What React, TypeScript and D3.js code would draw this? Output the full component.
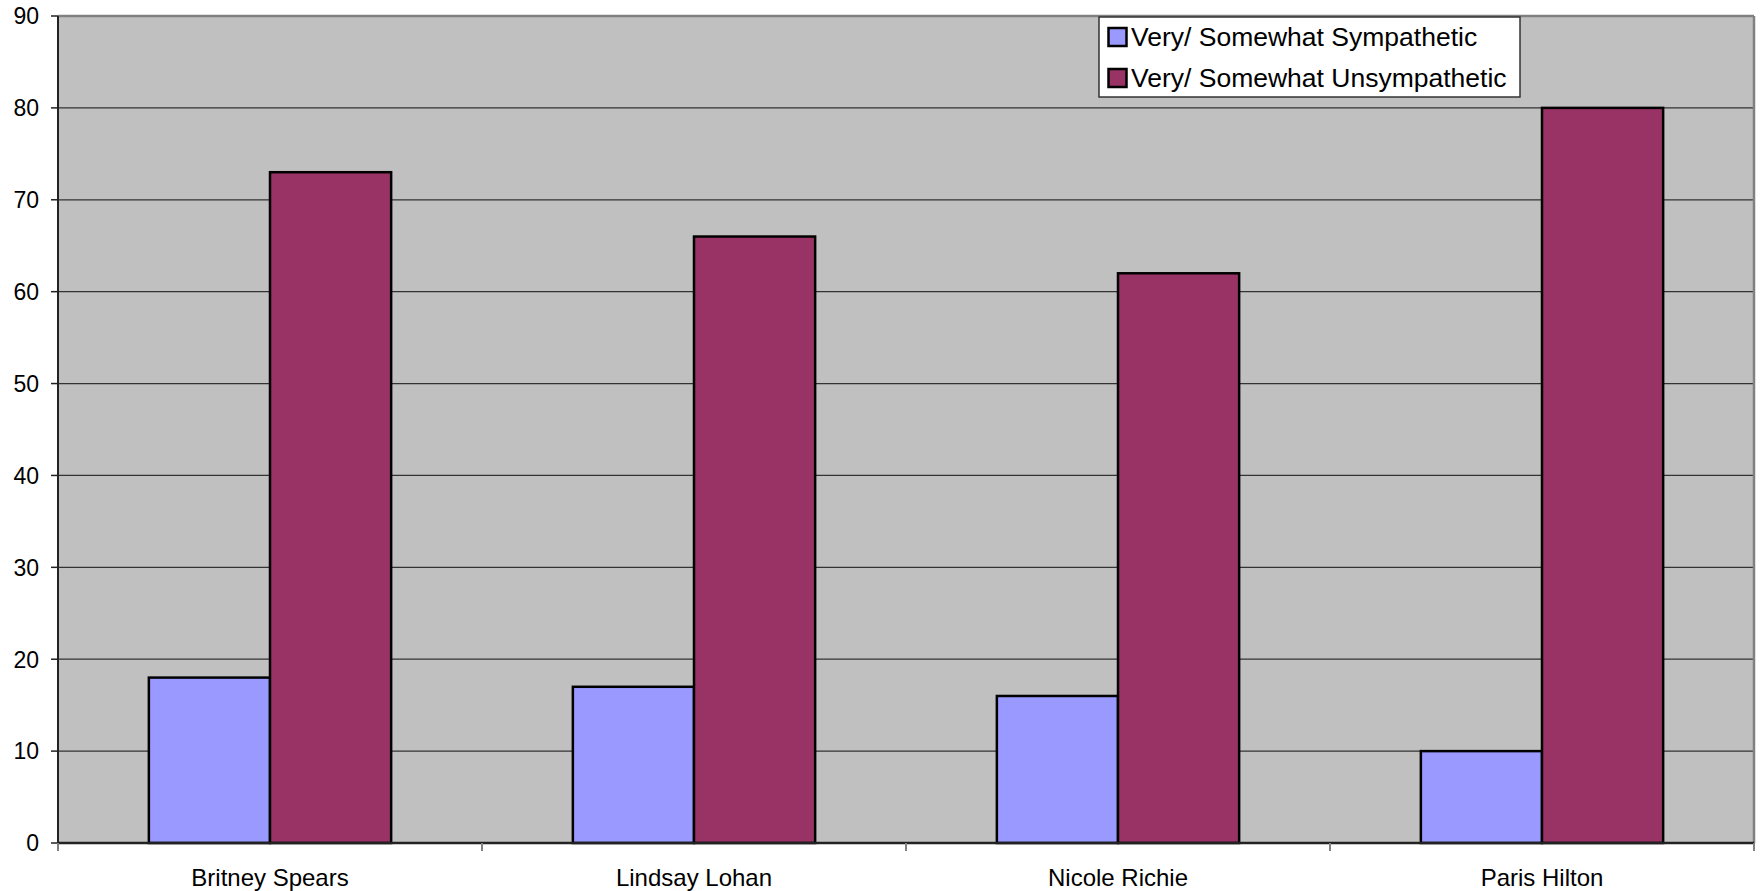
import React from "react";
import * as d3 from "d3";

const categories = ["Britney Spears", "Lindsay Lohan", "Nicole Richie", "Paris Hilton"];
const seriesNames = ["Very/ Somewhat Sympathetic", "Very/ Somewhat Unsympathetic"];
const sympathetic = [18, 17, 16, 10];
const unsympathetic = [73, 66, 62, 80];
const yTicks = [0, 10, 20, 30, 40, 50, 60, 70, 80, 90];
const colors = ["#9999FF", "#993366"];

const W = 1762;
const H = 891;
const plot = { left: 58, right: 1754, top: 16, bottom: 843 };
const FONT = "'Liberation Sans', Arial, sans-serif";

export default function App() {
  const values = [sympathetic, unsympathetic];
  const y = d3.scaleLinear().domain([0, 90]).range([plot.bottom, plot.top]);
  const x0 = d3.scaleBand<string>().domain(categories).range([plot.left, plot.right]).padding(0);
  const x1 = d3
    .scaleBand<string>()
    .domain(seriesNames)
    .range([0, x0.bandwidth()])
    .paddingInner(0)
    .paddingOuter(0.75);

  const boundaries = categories.map((c) => x0(c)!).concat([plot.right]);

  return (
    <svg
      width={W}
      height={H}
      style={{ position: "absolute", left: 0, top: 0, background: "#fff" }}
      fontFamily={FONT}
    >
      <rect
        x={plot.left}
        y={plot.top}
        width={plot.right - plot.left}
        height={plot.bottom - plot.top}
        fill="#C0C0C0"
      />
      {/* horizontal gridlines */}
      {yTicks.slice(1, -1).map((t) => (
        <line key={t} x1={plot.left} x2={plot.right} y1={y(t)} y2={y(t)} stroke="#333" strokeWidth={1.2} />
      ))}
      {/* plot border (top/right) */}
      <line x1={plot.left} x2={plot.right} y1={plot.top} y2={plot.top} stroke="#808080" strokeWidth={2.5} />
      <line x1={plot.right} x2={plot.right} y1={plot.top} y2={plot.bottom} stroke="#808080" strokeWidth={2.5} />

      {/* bars */}
      {categories.map((c, ci) =>
        seriesNames.map((s, si) => {
          const v = values[si][ci];
          const bx = x0(c)! + x1(s)!;
          return (
            <rect
              key={c + s}
              x={bx}
              y={y(v)}
              width={x1.bandwidth()}
              height={y(0) - y(v)}
              fill={colors[si]}
              stroke="#000"
              strokeWidth={2.5}
            />
          );
        })
      )}

      {/* y axis */}
      <line x1={plot.left} x2={plot.left} y1={plot.top} y2={plot.bottom + 8} stroke="#222" strokeWidth={2} />
      {yTicks.map((t) => (
        <g key={t}>
          <line x1={plot.left - 7} x2={plot.left} y1={y(t)} y2={y(t)} stroke="#222" strokeWidth={1.5} />
          <text x={39} y={y(t)} dy="0.36em" textAnchor="end" fontSize={23} fill="#000">
            {t}
          </text>
        </g>
      ))}

      {/* x axis */}
      <line x1={plot.left} x2={plot.right} y1={plot.bottom} y2={plot.bottom} stroke="#222" strokeWidth={2.5} />
      {boundaries.map((bx, i) => (
        <line key={i} x1={bx} x2={bx} y1={plot.bottom} y2={plot.bottom + 8} stroke="#808080" strokeWidth={2} />
      ))}
      {categories.map((c) => (
        <text
          key={c}
          x={x0(c)! + x0.bandwidth() / 2}
          y={877}
          dy="0.36em"
          textAnchor="middle"
          fontSize={24}
          fill="#000"
        >
          {c}
        </text>
      ))}

      {/* legend */}
      <rect x={1099} y={17} width={421} height={80} fill="#fff" stroke="#333" strokeWidth={1.5} />
      {seriesNames.map((s, i) => (
        <g key={s}>
          <rect x={1108.5} y={28 + i * 41} width={18} height={18} fill={colors[i]} stroke="#000" strokeWidth={2.5} />
          <text x={1131} y={36.5 + i * 41} dy="0.36em" fontSize={26.5} fill="#000">
            {s}
          </text>
        </g>
      ))}
    </svg>
  );
}
